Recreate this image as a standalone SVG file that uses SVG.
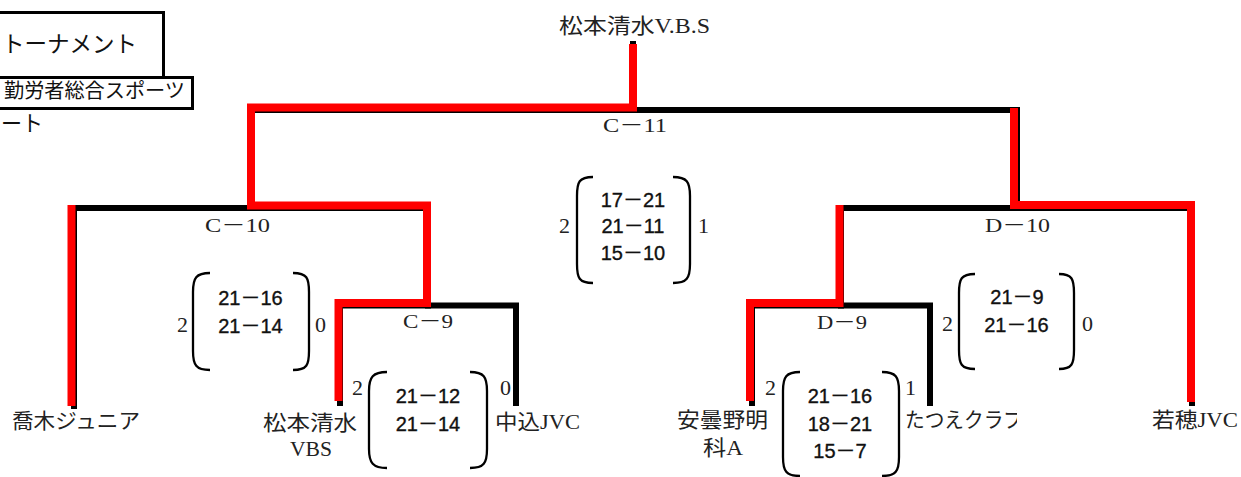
<svg xmlns="http://www.w3.org/2000/svg" width="1241" height="477" viewBox="0 0 1241 477">
<style>
.bk{fill:none;stroke:#000;stroke-width:6;stroke-linejoin:miter;stroke-linecap:square}
.rd{fill:none;stroke:#ff0000;stroke-width:8;stroke-linejoin:miter;stroke-linecap:butt}
.pr{fill:none;stroke:#000;stroke-width:2.3}
.box{fill:#fff;stroke:#000;stroke-width:3}
.nm{font-family:"Liberation Serif","Noto Sans CJK JP",serif;font-size:21px;fill:#222}
.ttl{font-family:"Liberation Serif","Noto Sans CJK JP",serif;fill:#111}
.lb{font-family:"Liberation Serif","Noto Sans CJK JP",serif;font-size:19px;fill:#222;text-anchor:middle}
.sc{font-family:"Liberation Sans","Noto Sans CJK JP",sans-serif;font-size:20px;fill:#111;stroke:#111;stroke-width:0.35;text-anchor:middle}
.st{font-family:"Liberation Serif","Noto Sans CJK JP",serif;font-size:22px;fill:#222}
</style>
<defs>
<clipPath id="clipTatsue"><rect x="900" y="400" width="117" height="40"/></clipPath>
</defs>
<rect width="1241" height="477" fill="#fff"/>

<g id="title">
<rect class="box" x="-5" y="12.5" width="168.5" height="65"/>
<rect class="box" x="-5" y="77.5" width="197.5" height="31"/>
<text class="ttl" x="2" y="52" font-size="23" textLength="135" lengthAdjust="spacingAndGlyphs">トーナメント</text>
<text class="ttl" x="4" y="98" font-size="20" textLength="181" lengthAdjust="spacingAndGlyphs">勤労者総合スポーツ</text>
<text class="ttl" x="1" y="131" font-size="22" textLength="42" lengthAdjust="spacingAndGlyphs">ート</text>
</g>

<g id="connectors">
<path class="bk" d="M633,44 L633,110"/>
<path class="bk" d="M252,110 L1017,110 L1017,208"/>
<path class="bk" d="M252,110 L252,208"/>
<path class="bk" d="M74,406 L74,208 L428,208 L428,305.5"/>
<path class="bk" d="M340,403 L340,305.5 L516,305.5 L516,403"/>
<path class="bk" d="M841,305.5 L841,208 L1192,208 L1192,403"/>
<path class="bk" d="M752,403 L752,305.5 L930,305.5 L930,403"/>
<path class="rd" d="M633,44 L633,107.5 L251,107.5 L251,205.5 L427,205.5 L427,303 L338.5,303 L338.5,401"/>
<path class="rd" d="M71.5,205 L71.5,406"/>
<path class="rd" d="M1014,108 L1014,205 L1191,205 L1191,402"/>
<path class="rd" d="M839.5,205 L839.5,303 L750,303 L750,401"/>
</g>

<g id="champion"><text class="nm" x="559" y="33" textLength="151" lengthAdjust="spacingAndGlyphs">松本清水V.B.S</text></g>

<g id="match-C11">
<text class="lb" x="635" y="132" textLength="64" lengthAdjust="spacingAndGlyphs">C－11</text>
<text class="st" x="559" y="233">2</text>
<path class="pr" d="M593,177 C579,177 577,182 577,196 L577,264 C577,278 579,283 593,283"/>
<text class="sc" x="633" y="207">17－21</text>
<text class="sc" x="633" y="233">21－11</text>
<text class="sc" x="633" y="260">15－10</text>
<path class="pr" d="M673,177 C687,177 690,182 690,196 L690,264 C690,278 687,283 673,283"/>
<text class="st" x="698" y="233">1</text>
</g>

<g id="match-C10">
<text class="lb" x="237.5" y="232" textLength="65" lengthAdjust="spacingAndGlyphs">C－10</text>
<text class="st" x="177" y="332">2</text>
<path class="pr" d="M210,273 C196,273 193,278 193,292 L193,351 C193,365 196,370 210,370"/>
<text class="sc" x="250.5" y="305">21－16</text>
<text class="sc" x="250.5" y="333">21－14</text>
<path class="pr" d="M293,273 C307,273 309,278 309,292 L309,351 C309,365 307,370 293,370"/>
<text class="st" x="315" y="332">0</text>
</g>

<g id="match-C9">
<text class="lb" x="428" y="328" textLength="50" lengthAdjust="spacingAndGlyphs">C－9</text>
<text class="st" x="352" y="395">2</text>
<path class="pr" d="M387,372 C373,372 369,377 369,391 L369,449 C369,463 373,468 387,468"/>
<text class="sc" x="428" y="403">21－12</text>
<text class="sc" x="428" y="431">21－14</text>
<path class="pr" d="M470,372 C484,372 487,377 487,391 L487,449 C487,463 484,468 470,468"/>
<text class="st" x="500" y="395">0</text>
</g>

<g id="match-D10">
<text class="lb" x="1017.5" y="232" textLength="65" lengthAdjust="spacingAndGlyphs">D－10</text>
<text class="st" x="942" y="331">2</text>
<path class="pr" d="M975,274 C961,274 959,279 959,293 L959,350 C959,364 961,369 975,369"/>
<text class="sc" x="1017" y="304">21－9</text>
<text class="sc" x="1016.5" y="332">21－16</text>
<path class="pr" d="M1059,274 C1072,274 1074,279 1074,293 L1074,350 C1074,364 1072,369 1059,369"/>
<text class="st" x="1082" y="331">0</text>
</g>

<g id="match-D9">
<text class="lb" x="842" y="329" textLength="50" lengthAdjust="spacingAndGlyphs">D－9</text>
<text class="st" x="765" y="395">2</text>
<path class="pr" d="M800,372 C786,372 783,377 783,391 L783,457 C783,471 786,476 800,476"/>
<text class="sc" x="840" y="403">21－16</text>
<text class="sc" x="840" y="431">18－21</text>
<text class="sc" x="840" y="458">15－7</text>
<path class="pr" d="M882,372 C896,372 899,377 899,391 L899,457 C899,471 896,476 882,476"/>
<text class="st" x="905" y="395">1</text>
</g>

<g id="team-takagi"><text class="nm" x="12" y="428" textLength="128" lengthAdjust="spacingAndGlyphs">喬木ジュニア</text></g>
<g id="team-matsumoto">
<text class="nm" x="263" y="430" textLength="94" lengthAdjust="spacingAndGlyphs">松本清水</text>
<text class="nm" x="290" y="456" textLength="42" lengthAdjust="spacingAndGlyphs">VBS</text>
</g>
<g id="team-nakagomi"><text class="nm" x="495" y="429" textLength="85" lengthAdjust="spacingAndGlyphs">中込JVC</text></g>
<g id="team-azumino">
<text class="nm" x="677" y="427" textLength="91" lengthAdjust="spacingAndGlyphs">安曇野明</text>
<text class="nm" x="703" y="455" textLength="40" lengthAdjust="spacingAndGlyphs">科A</text>
</g>
<g id="team-tatsue" clip-path="url(#clipTatsue)"><text class="nm" x="905" y="427" textLength="118" lengthAdjust="spacingAndGlyphs">たつえクラブ</text></g>
<g id="team-wakaho"><text class="nm" x="1152" y="427" textLength="86" lengthAdjust="spacingAndGlyphs">若穂JVC</text></g>
</svg>
